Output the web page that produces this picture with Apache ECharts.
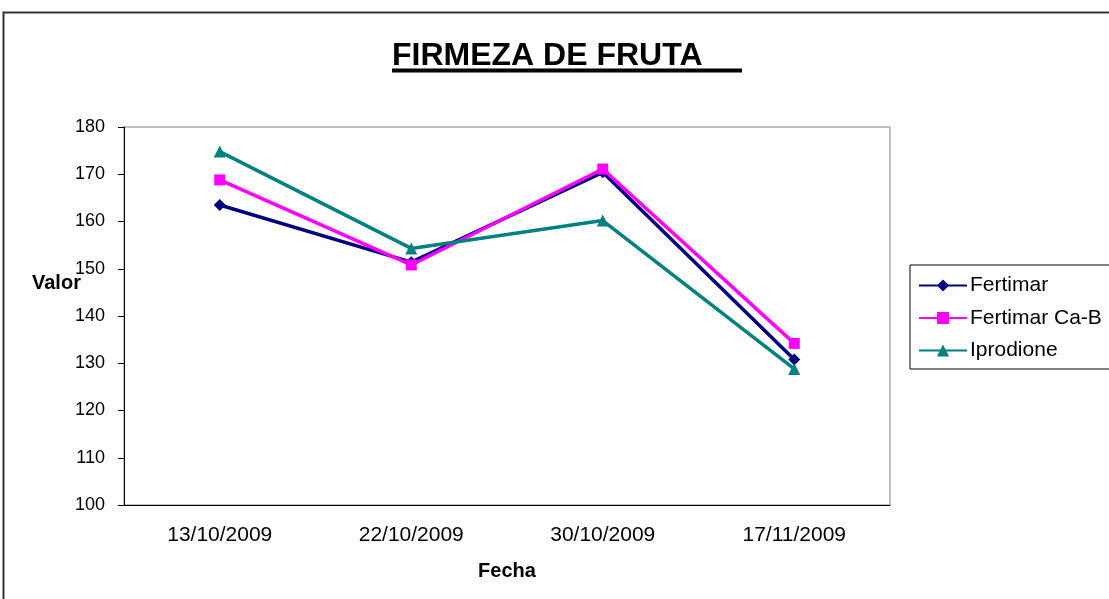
<!DOCTYPE html>
<html>
<head>
<meta charset="utf-8">
<script src="https://cdn.jsdelivr.net/npm/echarts@6/dist/echarts.min.js"></script>
<style>
	html, body { margin: 0; padding: 0; background: #fff; }
	#chart { width: 1109px; height: 599px; }
</style>
</head>
<body>
<div id="chart"></div>
<script>
	/* data */
	var fechas = ['13/10/2009', '22/10/2009', '30/10/2009', '17/11/2009'];
	var fertimar = [163.5, 151.4, 170.4, 130.8];
	var fertimarCaB = [168.8, 150.8, 171.1, 134.2];
	var iprodione = [174.8, 154.3, 160.2, 128.8];

	var font = '"Liberation Sans", Arial, sans-serif';

	var chart = echarts.init(document.getElementById('chart'));
	var option = {
		animation: false,
		textStyle: { fontFamily: font, color: '#000' },
		grid: {
			left: 124,
			right: 219,
			top: 127,
			bottom: 94,
			show: true,
			borderColor: '#808080',
			borderWidth: 1
		},
		graphic: [{
			type: 'rect',
			shape: { x: 3.5, y: 12.5, width: 1120, height: 600 },
			style: { fill: 'none', stroke: '#333', lineWidth: 2 },
			silent: true
		}, {
			// title, underline runs past the text as in the original
			type: 'text',
			left: 392,
			top: 40,
			style: {
				text: 'FIRMEZA DE FRUTA',
				font: 'bold 32px ' + font,
				fill: '#000'
			}
		}, {
			type: 'line',
			shape: { x1: 392, y1: 70.5, x2: 742, y2: 70.5 },
			style: { stroke: '#000', lineWidth: 4 }
		}, {
			type: 'text',
			left: 32,
			top: 273,
			style: {
				text: 'Valor',
				font: 'bold 20px ' + font,
				fill: '#000'
			}
		}],
		legend: {
			orient: 'vertical',
			left: 910,
			top: 265,
			padding: [10, 60, 8, 8],
			itemGap: 11.5,
			itemWidth: 48,
			itemHeight: 15,
			borderColor: '#000',
			borderWidth: 1,
			textStyle: { fontSize: 21, lineHeight: 20, fontFamily: font, color: '#000', padding: [0, 0, 0, -2] },
			data: ['Fertimar', 'Fertimar Ca-B', 'Iprodione']
		},
		xAxis: {
			type: 'category',
			data: fechas,
			boundaryGap: true,
			name: 'Fecha',
			nameLocation: 'middle',
			nameGap: 56,
			nameTextStyle: { fontSize: 20, fontWeight: 'bold', fontFamily: font, color: '#000' },
			axisLine: { lineStyle: { color: '#000', width: 1 } },
			axisTick: { length: 6, inside: false, lineStyle: { color: '#000' } },
			axisLabel: { fontSize: 21, color: '#000', margin: 20, fontFamily: font },
			splitLine: { show: false }
		},
		yAxis: {
			type: 'value',
			min: 100,
			max: 180,
			interval: 10,
			axisLine: { show: true, lineStyle: { color: '#000', width: 1 } },
			axisTick: { show: true, length: 6, lineStyle: { color: '#000' } },
			axisLabel: { fontSize: 18, color: '#000', margin: 19, fontFamily: font },
			splitLine: { show: false }
		},
		series: [{
			name: 'Fertimar',
			type: 'line',
			data: fertimar,
			symbol: 'diamond',
			symbolSize: 12,
			color: '#000080',
			lineStyle: { width: 3.5 }
		}, {
			name: 'Fertimar Ca-B',
			type: 'line',
			data: fertimarCaB,
			symbol: 'rect',
			symbolSize: 11,
			color: '#ff00ff',
			lineStyle: { width: 3.5 }
		}, {
			name: 'Iprodione',
			type: 'line',
			data: iprodione,
			symbol: 'triangle',
			symbolSize: 12,
			color: '#008080',
			lineStyle: { width: 3.5 }
		}]
	};
	chart.setOption(option);
</script>
</body>
</html>
